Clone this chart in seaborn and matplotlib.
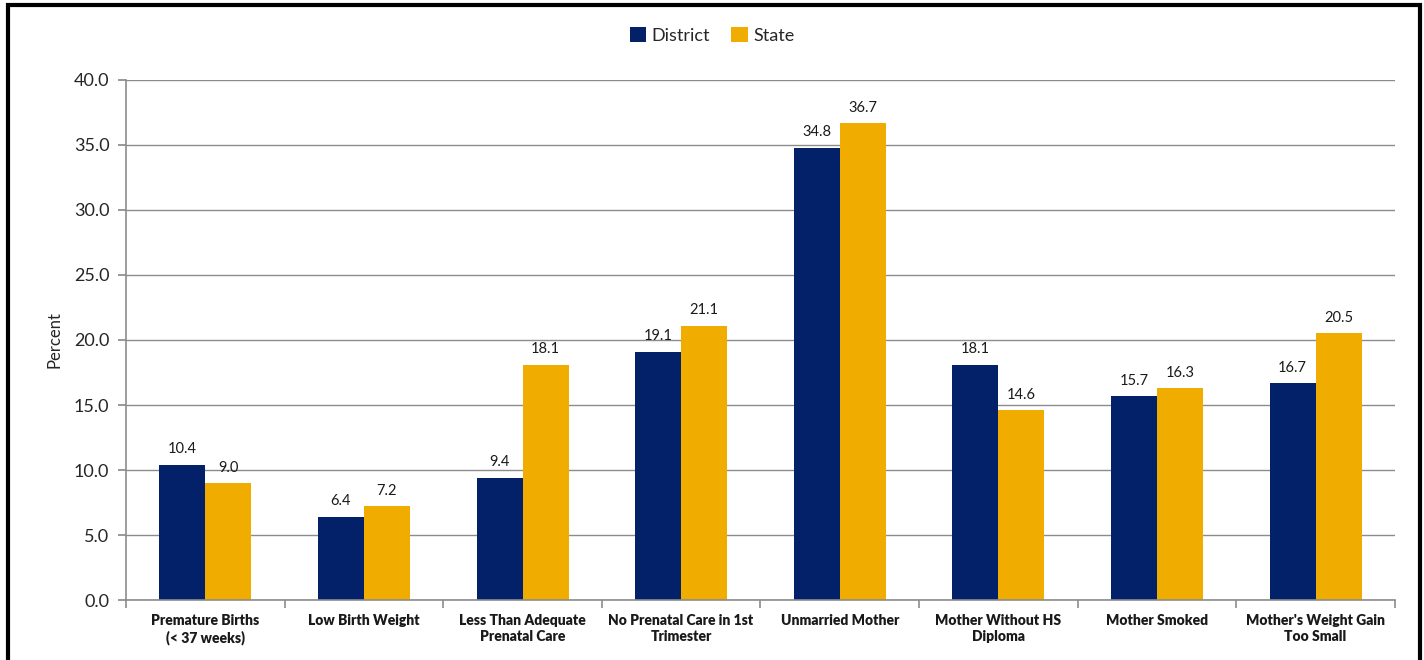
import matplotlib
matplotlib.use("Agg")
import matplotlib.pyplot as plt
import seaborn as sns
import pandas as pd
import numpy as np
from matplotlib.patches import Rectangle

categories = ["Premature Births\n(< 37 weeks)", "Low Birth Weight", "Less Than Adequate\nPrenatal Care",
              "No Prenatal Care in 1st\nTrimester", "Unmarried Mother", "Mother Without HS\nDiploma",
              "Mother Smoked", "Mother's Weight Gain\nToo Small"]
district = [10.4, 6.4, 9.4, 19.1, 34.8, 18.1, 15.7, 16.7]
state = [9.0, 7.2, 18.1, 21.1, 36.7, 14.6, 16.3, 20.5]
series = ["District", "State"]
colors = ["#022168", "#F1AC00"]
yticks = [0, 5, 10, 15, 20, 25, 30, 35, 40]

df = pd.DataFrame({
    "category": categories * 2,
    "value": district + state,
    "series": [series[0]] * len(categories) + [series[1]] * len(categories),
})

sns.set_theme(style="white")
plt.rcParams['font.family'] = ['Lato', 'DejaVu Sans']

fig = plt.figure(figsize=(14.24, 6.6), dpi=100)
ax = fig.add_axes([0.0885, 0.0909, 0.891, 0.7879])

sns.barplot(data=df, x="category", y="value", hue="series", palette=colors,
            order=categories, hue_order=series, width=0.58, saturation=1, ax=ax,
            errorbar=None, linewidth=0)

for cont in ax.containers:
    ax.bar_label(cont, labels=[f"{v:.1f}" for v in cont.datavalues], padding=6, fontsize=10.5, color="#1a1a1a")

ax.set_ylim(0, 40)
ax.set_xlim(-0.5, len(categories) - 0.5)
ax.set_yticks(yticks)
ax.set_yticklabels([f"{t:.1f}" for t in yticks], fontsize=13)
ax.set_ylabel("Percent", fontsize=12, labelpad=8)
ax.set_xlabel("")
ax.yaxis.grid(True, color="#8c8c8c", linewidth=1)
ax.set_axisbelow(True)
for s in ["top", "right"]:
    ax.spines[s].set_visible(False)
for s in ["left", "bottom"]:
    ax.spines[s].set_color("#8c8c8c")
    ax.spines[s].set_linewidth(1.2)

ax.tick_params(axis="y", which="major", length=6, color="#8c8c8c", direction="out", pad=6, left=True)
ax.set_xticks(range(len(categories)))
ax.set_xticklabels(categories, fontsize=10, fontweight="heavy", color="#1a1a1a", linespacing=1.3)
ax.tick_params(axis="x", which="major", length=0, pad=10)
ax.set_xticks(np.arange(-0.5, len(categories), 1.0), minor=True)
ax.tick_params(axis="x", which="minor", length=6, color="#8c8c8c", width=1.2, bottom=True)

ax.legend(loc="upper center", bbox_to_anchor=(0.5, 1.0), bbox_transform=fig.transFigure,
          ncol=2, frameon=False, fontsize=13, handlelength=0.9, handleheight=0.9,
          handletextpad=0.3, columnspacing=1.2, borderaxespad=1.1)

fig.patches.append(Rectangle((0.0055, -0.05), 0.9915, 1.043, transform=fig.transFigure,
                             fill=False, edgecolor="black", linewidth=3, zorder=10))

fig.savefig("out.png", dpi=100)
